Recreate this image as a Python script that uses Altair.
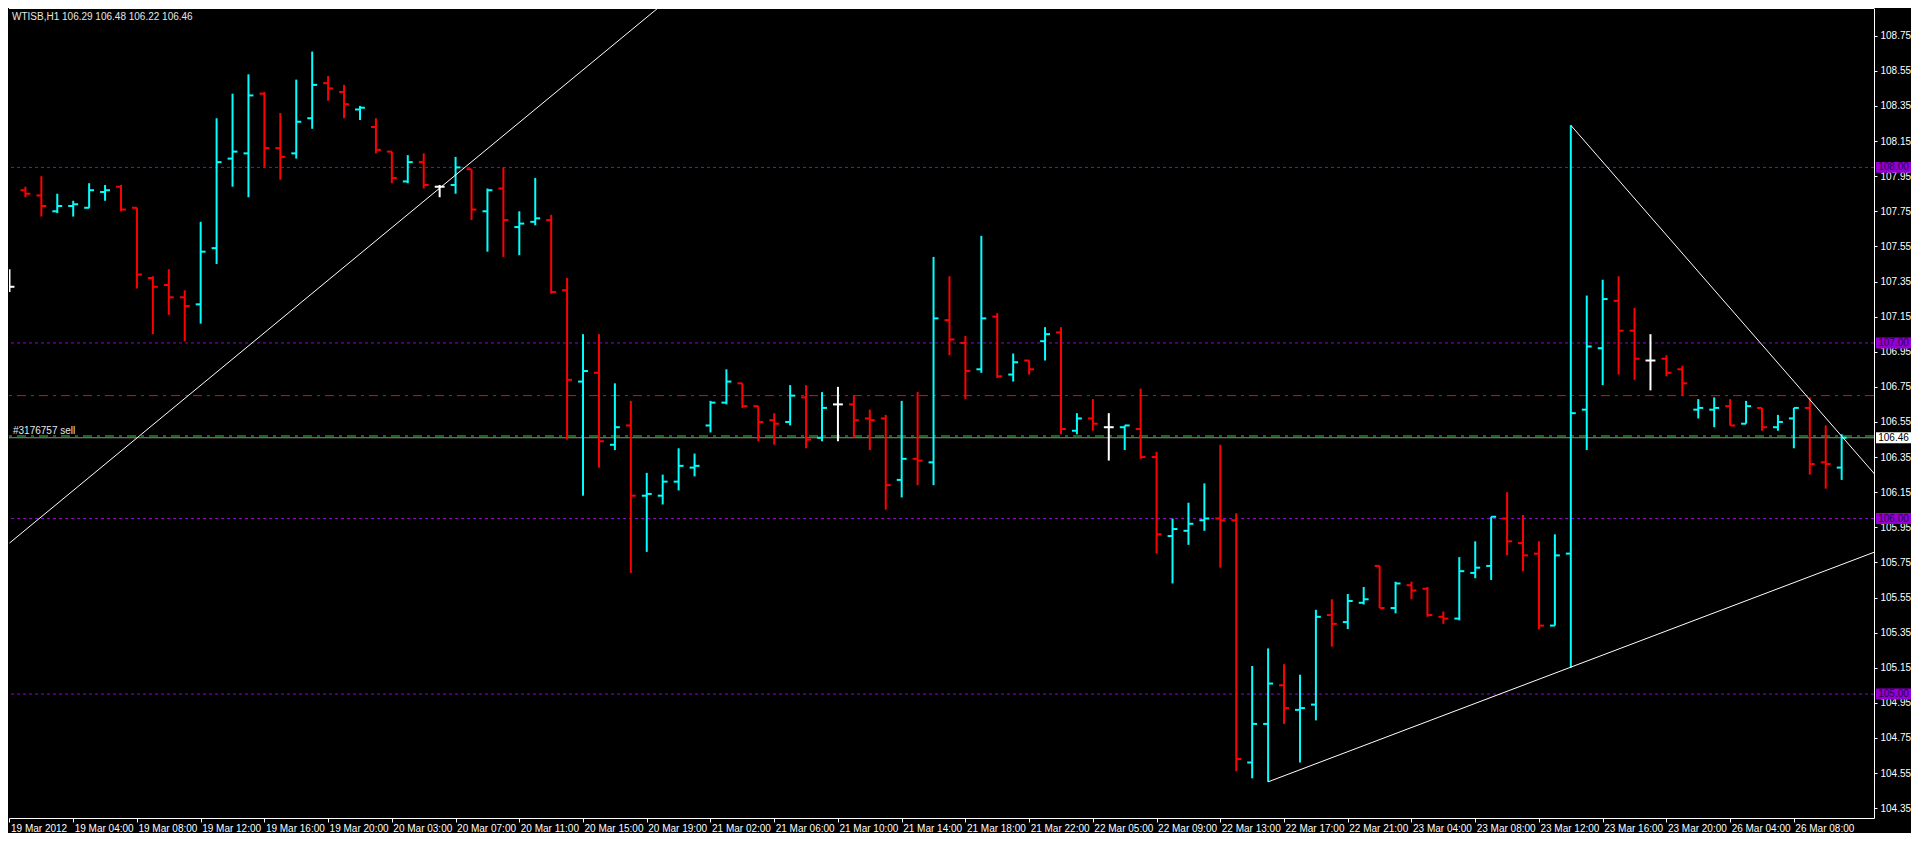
import altair as alt
import pandas as pd

# ---------------- data ----------------
symbol = "WTISB,H1"

opens = [107.32, 107.87, 107.84, 107.75, 107.78, 107.77, 107.86, 107.89, 107.77, 107.37,
         107.33, 107.26, 107.22, 107.54, 108.05, 108.08, 108.42, 108.11, 108.08, 108.28,
         108.48, 108.43, 108.33, 108.23, 108.09, 107.92, 108.03, 107.89, 107.90, 107.99,
         107.75, 107.88, 107.66, 107.69, 107.70, 107.30, 106.78, 106.83, 106.42, 106.53,
         106.13, 106.13, 106.21, 106.29, 106.53, 106.66, 106.77, 106.64, 106.56, 106.55,
         106.69, 106.46, 106.65, 106.65, 106.57, 106.57, 106.22, 106.34, 106.32, 107.13,
         107.00, 106.85, 107.15, 106.82, 106.90, 107.01, 107.06, 106.50, 106.57, 106.52,
         106.52, 106.51, 106.35, 105.90, 105.93, 105.99, 106.00, 105.99, 104.61, 104.83,
         105.05, 104.91, 104.94, 105.45, 105.41, 105.52, 105.73, 105.49, 105.62, 105.60,
         105.44, 105.43, 105.69, 105.73, 106.00, 105.86, 105.80, 105.39, 105.80, 106.62,
         106.97, 107.24, 107.07, 106.90, 106.91, 106.85, 106.62, 106.62, 106.64, 106.54,
         106.63, 106.52, 106.57, 106.63, 106.32, 106.29]

highs = [107.42, 107.89, 107.95, 107.85, 107.81, 107.91, 107.90, 107.90, 107.77, 107.38,
         107.42, 107.30, 107.69, 108.28, 108.42, 108.53, 108.43, 108.31, 108.50, 108.66,
         108.52, 108.47, 108.35, 108.28, 108.09, 108.07, 108.08, 107.90, 108.06, 107.99,
         107.88, 108.00, 107.75, 107.94, 107.73, 107.37, 107.05, 107.05, 106.77, 106.67,
         106.26, 106.25, 106.40, 106.37, 106.67, 106.85, 106.77, 106.64, 106.60, 106.76,
         106.76, 106.72, 106.75, 106.70, 106.62, 106.59, 106.67, 106.72, 107.49, 107.38,
         107.04, 107.61, 107.17, 106.94, 106.90, 107.09, 107.09, 106.60, 106.68, 106.60,
         106.53, 106.74, 106.38, 106.00, 106.09, 106.20, 106.42, 106.03, 105.16, 105.26,
         105.17, 105.11, 105.48, 105.54, 105.57, 105.61, 105.73, 105.64, 105.64, 105.61,
         105.47, 105.78, 105.87, 106.01, 106.15, 106.02, 105.87, 105.91, 108.24, 107.27,
         107.36, 107.38, 107.20, 107.05, 106.93, 106.87, 106.68, 106.69, 106.68, 106.67,
         106.63, 106.59, 106.63, 106.69, 106.53, 106.48]

lows = [107.29, 107.83, 107.72, 107.74, 107.72, 107.77, 107.81, 107.75, 107.31, 107.05,
        107.16, 107.01, 107.11, 107.45, 107.89, 107.83, 108.00, 107.93, 108.05, 108.22,
        108.38, 108.28, 108.27, 108.08, 107.91, 107.91, 107.88, 107.83, 107.85, 107.70,
        107.52, 107.49, 107.50, 107.67, 107.28, 106.45, 106.13, 106.29, 106.39, 105.69,
        105.81, 106.08, 106.16, 106.24, 106.49, 106.65, 106.63, 106.44, 106.42, 106.53,
        106.40, 106.44, 106.44, 106.46, 106.39, 106.05, 106.12, 106.19, 106.19, 106.93,
        106.68, 106.83, 106.80, 106.78, 106.82, 106.90, 106.48, 106.48, 106.50, 106.33,
        106.39, 106.34, 105.80, 105.63, 105.85, 105.93, 105.72, 104.56, 104.52, 104.50,
        104.83, 104.61, 104.85, 105.27, 105.37, 105.51, 105.49, 105.46, 105.54, 105.44,
        105.40, 105.42, 105.66, 105.65, 105.79, 105.70, 105.37, 105.39, 105.15, 106.39,
        106.76, 106.82, 106.79, 106.73, 106.81, 106.70, 106.57, 106.52, 106.53, 106.54,
        106.50, 106.50, 106.40, 106.25, 106.17, 106.22]

closes = [107.32, 107.85, 107.78, 107.78, 107.79, 107.87, 107.87, 107.76, 107.39, 107.32,
          107.26, 107.21, 107.52, 108.03, 108.09, 108.41, 108.11, 108.06, 108.26, 108.47,
          108.45, 108.36, 108.34, 108.10, 107.94, 108.03, 107.90, 107.89, 108.00, 107.76,
          107.87, 107.70, 107.68, 107.71, 107.29, 106.79, 106.84, 106.44, 106.52, 106.13,
          106.14, 106.21, 106.30, 106.30, 106.66, 106.78, 106.64, 106.55, 106.54, 106.70,
          106.45, 106.63, 106.65, 106.56, 106.56, 106.19, 106.34, 106.33, 107.14, 107.02,
          106.84, 107.14, 106.81, 106.89, 106.85, 107.05, 106.51, 106.57, 106.54, 106.52,
          106.53, 106.35, 105.91, 105.94, 105.97, 106.00, 105.99, 104.63, 104.83, 105.06,
          104.92, 104.92, 105.44, 105.40, 105.53, 105.54, 105.49, 105.63, 105.59, 105.45,
          105.43, 105.70, 105.72, 106.01, 105.87, 105.79, 105.39, 105.79, 106.60, 106.98,
          107.25, 107.07, 106.91, 106.90, 106.83, 106.77, 106.63, 106.63, 106.53, 106.64,
          106.52, 106.55, 106.63, 106.31, 106.31, 106.46]

time_labels = ["19 Mar 2012", "19 Mar 04:00", "19 Mar 08:00", "19 Mar 12:00", "19 Mar 16:00",
               "19 Mar 20:00", "20 Mar 03:00", "20 Mar 07:00", "20 Mar 11:00", "20 Mar 15:00",
               "20 Mar 19:00", "21 Mar 02:00", "21 Mar 06:00", "21 Mar 10:00", "21 Mar 14:00",
               "21 Mar 18:00", "21 Mar 22:00", "22 Mar 05:00", "22 Mar 09:00", "22 Mar 13:00",
               "22 Mar 17:00", "22 Mar 21:00", "23 Mar 04:00", "23 Mar 08:00", "23 Mar 12:00",
               "23 Mar 16:00", "23 Mar 20:00", "26 Mar 04:00", "26 Mar 08:00"]
bars_per_label = 4

price_ticks = [104.35, 104.55, 104.75, 104.95, 105.15, 105.35, 105.55, 105.75, 105.95,
               106.15, 106.35, 106.55, 106.75, 106.95, 107.15, 107.35, 107.55, 107.75,
               107.95, 108.15, 108.35, 108.55, 108.75]

round_levels = [105.00, 106.00, 107.00, 108.00]
stop_level = 106.70
order_level = 106.47
order_text = "#3176757 sell"
bid_level = closes[-1]

# trend lines: (bar index, price) anchor points
trend_names = ["up", "up", "low", "low", "high", "high"]
trend_x = [0, 41, 79, 117.1, 98, 117.1]
trend_y = [105.86, 108.93, 104.50, 105.81, 108.24, 106.25]

# ---------------- styling ----------------
W, H = 1865, 810
FONT = "Liberation Sans"
PURPLE = "#9400d3"
CYAN = "#00ffff"
RED = "#ff0000"

n = len(opens)
bars = pd.DataFrame({"i": list(range(n)), "o": opens, "h": highs, "l": lows, "c": closes})
bars["col"] = ["#ffffff" if c == o else (CYAN if c > o else RED) for o, c in zip(opens, closes)]

xs = alt.Scale(domain=[-0.03, 117.03], nice=False, zero=False)
ys = alt.Scale(domain=[104.294, 108.908], nice=False, zero=False)

label_values = [bars_per_label * k for k in range(len(time_labels))]
label_expr = "[" + ",".join("'" + s + "'" for s in time_labels) + "][round(datum.value / %d)]" % bars_per_label

x_axis = alt.Axis(values=label_values, labelExpr=label_expr, title=None, grid=False,
                  labelAlign="left", labelBaseline="top", labelPadding=1, labelOffset=1,
                  tickSize=4, tickColor="white", domainColor="white", labelColor="white",
                  labelFont=FONT, labelFontSize=10, labelOverlap=False, labelFlush=False,
                  labelBound=False)
y_axis = alt.Axis(orient="right", values=price_ticks, format=".2f", title=None, grid=False,
                  tickSize=3, tickColor="white", domainColor="white", labelColor="white",
                  labelFont=FONT, labelFontSize=10, labelPadding=3, labelOverlap=False)


def X(field):
    return alt.X(field, scale=xs, axis=x_axis)


def Y(field):
    return alt.Y(field, scale=ys, axis=y_axis)


# level lines
lv = alt.Chart(pd.DataFrame({"p": round_levels})).mark_rule(
    color=PURPLE, strokeDash=[3, 3], strokeWidth=1).encode(y=Y("p:Q"))
stop = alt.Chart(pd.DataFrame({"p": [stop_level]})).mark_rule(
    color=RED, strokeDash=[9, 5, 3, 5], strokeWidth=1).encode(y=Y("p:Q"))
order = alt.Chart(pd.DataFrame({"p": [order_level]})).mark_rule(
    color="#32cd32", strokeDash=[9, 5, 3, 5], strokeWidth=1).encode(y=Y("p:Q"))
bid = alt.Chart(pd.DataFrame({"p": [bid_level]})).mark_rule(
    color="#8c8c8c", strokeWidth=1).encode(y=Y("p:Q"))

# OHLC bars
base = alt.Chart(bars)
hl = base.mark_rule(strokeWidth=2, clip=True).encode(
    x=X("i:Q"), y=Y("l:Q"), y2="h:Q",
    color=alt.Color("col:N", scale=None))
otick = base.transform_calculate(x0="datum.i - 0.31").mark_rule(strokeWidth=2, clip=True).encode(
    x=X("x0:Q"), x2="i:Q", y=Y("o:Q"),
    color=alt.Color("col:N", scale=None))
ctick = base.transform_calculate(x1="datum.i + 0.31").mark_rule(strokeWidth=2, clip=True).encode(
    x=X("i:Q"), x2="x1:Q", y=Y("c:Q"),
    color=alt.Color("col:N", scale=None))

# trend lines
tl = alt.Chart(pd.DataFrame({"g": trend_names, "tx": trend_x, "ty": trend_y})).mark_line(
    color="white", strokeWidth=1, clip=True).encode(
    x=X("tx:Q"), y=Y("ty:Q"), detail="g:N")

# frame top line
top = alt.Chart(pd.DataFrame({"k": [0]})).mark_rule(color="white", strokeWidth=1).encode(
    x=alt.value(0), x2=alt.value(W), y=alt.value(0.5))

# texts
title_str = "%s  %.2f %.2f %.2f %.2f" % (symbol, opens[-1], highs[-1], lows[-1], closes[-1])
title = alt.Chart(pd.DataFrame({"t": [title_str]})).mark_text(
    align="left", baseline="middle", color="#e6e6e6", font=FONT, fontSize=10).encode(
    x=alt.value(3), y=alt.value(9), text="t:N")
sell = alt.Chart(pd.DataFrame({"p": [order_level], "t": [order_text]})).mark_text(
    align="left", baseline="alphabetic", dy=-2, color="#e6e6e6", font=FONT, fontSize=10).encode(
    x=alt.value(4), y=Y("p:Q"), text="t:N")

# price tags on the right scale
tags = pd.DataFrame({
    "p": round_levels + [bid_level],
    "fill": [PURPLE] * len(round_levels) + ["#ffffff"],
    "tc": ["#2b0047"] * len(round_levels) + ["#000000"],
})
tags["t"] = ["%.2f" % v for v in tags["p"]]
tag_box = alt.Chart(tags).transform_calculate(
    p0="datum.p - 0.031", p1="datum.p + 0.031").mark_rect().encode(
    x=alt.value(W + 2), x2=alt.value(W + 37),
    y=Y("p0:Q"), y2="p1:Q",
    fill=alt.Color("fill:N", scale=None))
tag_txt = alt.Chart(tags).mark_text(
    align="center", baseline="middle", font=FONT, fontSize=10).encode(
    x=alt.value(W + 19.5), y=Y("p:Q"), text="t:N",
    color=alt.Color("tc:N", scale=None))

chart = alt.layer(
    lv, stop, order, bid, hl, otick, ctick, tl, top, title, sell, tag_box, tag_txt
).properties(
    width=W, height=H, padding=0, background="black"
).configure_view(strokeWidth=0)

chart.save("out.html", embed_options={"renderer": "svg", "actions": False})
